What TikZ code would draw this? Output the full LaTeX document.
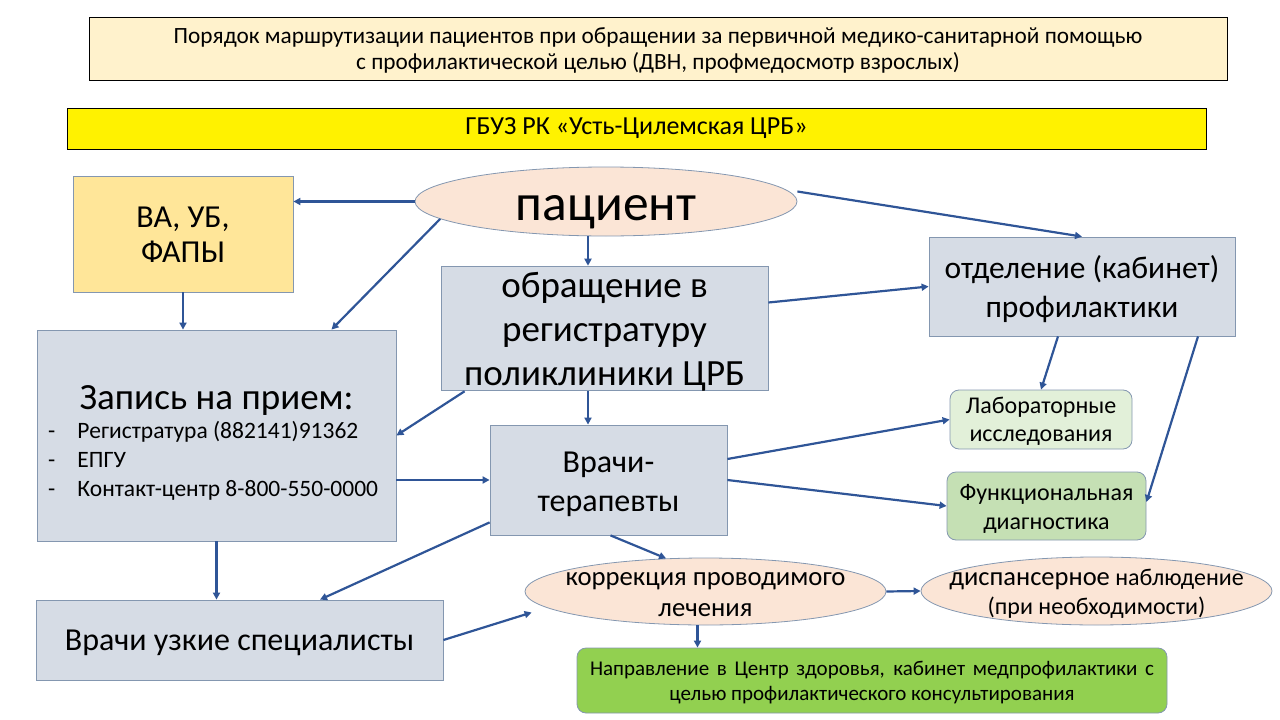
\documentclass[tikz,border=0pt]{standalone}
\usepackage{fontspec}
\setmainfont{Carlito}
\usetikzlibrary{arrows.meta,shapes.geometric}

\definecolor{linkblue}{HTML}{2F5597}
\definecolor{boxline}{HTML}{8497B0}
\definecolor{boxfill}{HTML}{D6DCE5}
\definecolor{titlefill}{HTML}{FFF2CC}
\definecolor{vafill}{HTML}{FFE699}
\definecolor{peach}{HTML}{FBE5D6}
\definecolor{labfill}{HTML}{E2F0D9}
\definecolor{funfill}{HTML}{C5E0B4}
\definecolor{napfill}{HTML}{92D050}

\newcommand{\fsz}[2]{\fontsize{#1}{#2}\selectfont}
\newcommand{\vs}{\rule[-.2\baselineskip]{0pt}{\baselineskip}}
\newcommand{\dash}{\hspace*{5pt}\makebox[29.5pt][l]{-}}

\begin{document}
\begin{tikzpicture}[x=1pt,y=-1pt,
  banner/.style={draw=black, line width=0.8pt, inner sep=2pt, align=center},
  box/.style={draw=boxline, fill=boxfill, line width=0.8pt, inner sep=2pt, align=center},
  oval/.style={ellipse, draw=boxline, fill=peach, line width=0.8pt, inner xsep=-40pt, inner ysep=-25pt, align=center},
  soft/.style={box, rounded corners=9pt},
  link/.style={draw=linkblue, line width=2.2pt, -{Triangle[length=7pt,width=7pt]}}]
%\draw[help lines] (0,0) grid (1280,720);
\useasboundingbox (0,0) rectangle (1280,720);

\node[banner, fill=titlefill, minimum width=1138, minimum height=63, font=\fsz{23.3}{26.7}] (title) at (658,48.5)
  {\vs Порядок маршрутизации пациентов при обращении за первичной медико-санитарной помощью\\с профилактической целью (ДВН, профмедосмотр взрослых)\vs};
\node[banner, fill=yellow, minimum width=1139, minimum height=41, font=\fsz{26}{30}] (org) at (636.5,128.5)
  {ГБУЗ РК «Усть-Цилемская ЦРБ»};

\node[box, fill=vafill, minimum width=220, minimum height=116, font=\fsz{32}{35}] (va) at (183,234) {\vs ВА, УБ,\\ФАПЫ\vs};
\node[oval, minimum width=382, minimum height=69, font=\fsz{51.5}{62}] (pac) at (606,201.5) {\vs пациент};
\node[box, inner ysep=0pt, minimum width=327, minimum height=123, font=\fsz{37}{44}] (obr) at (604.5,328.5)
  {\rule{0pt}{31pt}обращение в\\регистратуру\\поликлиники ЦРБ\rule[-4pt]{0pt}{4pt}};
\node[box, minimum width=306, minimum height=99, font=\fsz{31.5}{39}] (otd) at (1082,286.5)
  {\vs отделение (кабинет)\\профилактики\vs};

\node[box, minimum width=359, minimum height=211, text width=347, align=left] (zap) at (216.5,435.5)
  {\spaceskip=0pt
   {\centering\fsz{37}{44}\rule{0pt}{41pt}Запись на прием:\par}
   \fsz{23.5}{29}\dash Регистратура (882141)91362\par
   \dash ЕПГУ\par
   \dash Контакт-центр 8-800-550-0000\vs\par};

\node[box, minimum width=237, minimum height=110, font=\fsz{32}{39}] (ter) at (608.5,480) {\vs Врачи-\\терапевты\vs};
\node[soft, inner ysep=1pt, fill=labfill, minimum width=182, minimum height=59, font=\fsz{24}{28}] (lab) at (1041,419.5)
  {\vs Лабораторные\\исследования\vs};
\node[soft, fill=funfill, minimum width=199, minimum height=68, font=\fsz{24}{29}] (fun) at (1046.5,506)
  {\vs Функциональная\\диагностика\vs};

\node[oval, minimum width=361, minimum height=67, font=\fsz{26.7}{31.6}] (kor) at (705.5,591.5)
  {\vs коррекция проводимого\\лечения\vs};
\node[oval, minimum width=351, minimum height=68, font=\fsz{24}{29}] (dis) at (1096.5,591)
  {\vs{\fsz{26.5}{29}диспансерное} наблюдение\\(при необходимости)\vs};
\node[box, minimum width=407, minimum height=80, font=\fsz{32}{34}] (uzk) at (239.5,640) {\vs Врачи узкие специалисты};
\node[soft, fill=napfill, minimum width=590, minimum height=65, font=\fsz{21}{25}] (nap) at (872,680.5)
  {\vs\makebox[564pt][s]{Направление в Центр здоровья, кабинет медпрофилактики с}\\целью профилактического консультирования\vs};

% connectors
\draw[link] (pac.west) -- (pac.west -| va.east);
\draw[link] (pac.186) -- ([xshift=115pt]zap.north);
\draw[link] ([xshift=-18pt]pac.south) -- ([xshift=-16.5pt]obr.north);
\draw[link] ([yshift=10pt]pac.east) -- (otd.north);
\draw[link] (va.south) -- (va.south |- zap.north);
\draw[link] ([yshift=26pt]obr.east) -- (otd.west);
\draw[link] ([xshift=24pt]obr.south west) -- (zap.east);
\draw[link] ([xshift=-16.5pt]obr.south) -- ([xshift=-20.5pt]ter.north);
\draw[link] (ter.west -| zap.east) -- (ter.west);
\draw[link] (zap.south) -- (zap.south |- uzk.north);
\draw[link] ([yshift=13pt]ter.south west) -- ([xshift=80.5pt]uzk.north);
\draw[link] ([yshift=21pt]ter.east) -- (lab.west);
\draw[link] (ter.east) -- (fun.west);
\draw[link] ([xshift=-24pt]otd.south) -- (lab.north);
\draw[link] ([xshift=116pt]otd.south) -- ([yshift=4pt]fun.east);
\draw[link] ([xshift=2pt]ter.south) -- (kor.140);
\draw[link] (uzk.east) -- ([shift={(7pt,-21pt)}]kor.west);
\draw[link] (kor.east) -- (dis.west);
\draw[link] ([xshift=-8pt]kor.south) -- ([xshift=-8pt]kor.south |- nap.north);
\end{tikzpicture}
\end{document}
